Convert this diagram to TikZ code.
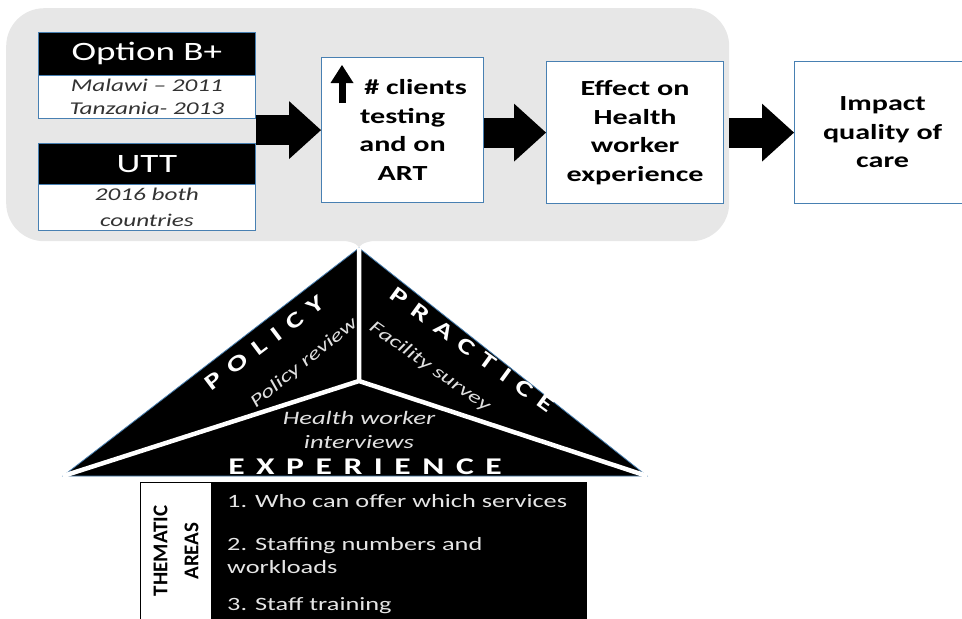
\documentclass[tikz,border=0pt]{standalone}
\usepackage{fontspec}
\setmainfont{Carlito}[FakeStretch=1.4]
\newfontfamily\spacedfont{Carlito}[FakeStretch=1.4,LetterSpace=48]
\newfontfamily\plainfont{Carlito}
\usetikzlibrary{arrows.meta,calc}
\definecolor{edgeblue}{RGB}{72,128,178}
\definecolor{panelgray}{RGB}{231,231,231}

\begin{document}
\begin{tikzpicture}[x=1pt,y=-1pt]

\tikzstyle{panel}=[fill=panelgray,rounded corners=38pt,anchor=north west,inner sep=0pt,minimum width=723,minimum height=233]
\tikzstyle{header}=[fill=black,draw=edgeblue,line width=0.8pt,anchor=north west,inner sep=0pt,minimum width=217,text=white,font=\fontsize{26.5}{30}\selectfont]
\tikzstyle{sub}=[fill=white,draw=edgeblue,line width=0.8pt,anchor=north west,inner sep=0pt,minimum width=217,align=center,text=black!80,font=\fontsize{18}{23}\selectfont\itshape]
\tikzstyle{box}=[fill=white,draw=edgeblue,line width=1.2pt,anchor=north west,inner sep=0pt,align=center,font=\fontsize{21.5}{28.5}\selectfont\bfseries]
\tikzstyle{fat}=[line width=30pt,-{Triangle[length=32pt,width=58pt,line width=0pt]}]
\tikzstyle{caps}=[text=white,inner sep=0pt,font=\spacedfont\fontsize{22}{22}\selectfont\bfseries]
\tikzstyle{method}=[text=white!88!black,inner sep=0pt,font=\fontsize{18}{24}\selectfont\itshape]
\tikzstyle{item}=[anchor=base west,inner sep=0pt,text=white!90!black,font=\fontsize{18.8}{23}\selectfont]

\useasboundingbox (0,0) rectangle (962,619);

% corners of the triangle
\coordinate (top) at (359,248);
\coordinate (mid) at (359,381);
\coordinate (bl) at (63,476);
\coordinate (br) at (647,476);

% grey panel with its pointer
\node[panel] (panel) at (6,8) {};
\fill[panelgray] ($(top)+(-34,-9)$) .. controls ($(top)+(-10,-8)$) and ($(top)+(-3,-5)$) .. ($(top)+(0,-1)$)
  .. controls ($(top)+(3,-5)$) and ($(top)+(10,-8)$) .. ($(top)+(34,-9)$) -- cycle;

% policy boxes
\node[header,minimum height=43] (optb) at (38,32) {Option B+};
\node[sub,minimum height=43] (optbsub) at (38,75) {Malawi -- 2011\\Tanzania- 2013};
\node[header,minimum height=41] (utt) at (38,143) {UTT};
\node[sub,minimum height=46,font=\fontsize{18}{26}\selectfont\itshape] (uttsub) at (38,184) {2016 both\\countries};

% chain of effects
\node[box,minimum width=162,minimum height=145] (clients) at (321,57) {\hspace{26pt}\# clients\\testing\\and on\\ART};
\node[box,minimum width=177,minimum height=142] (effect) at (546,61) {Effect on\\Health\\worker\\experience};
\node[box,minimum width=176,minimum height=142] (impact) at (794,61) {Impact\\quality of\\care};

\draw[line width=7pt,-{Triangle[length=18pt,width=23pt,line width=0pt]}] ($(clients.north west)+(21,46)$) -- ($(clients.north west)+(21,8)$);

\draw[fat] (optbsub.east |- clients.west) -- (clients.west);
\draw[fat] (clients.east |- effect.west) -- (effect.west);
\draw[fat] (panel.east |- impact.west) -- (impact.west);

% triangle of methods
\filldraw[fill=black,draw=edgeblue,line width=0.8pt] (top) -- (br) -- (bl) -- cycle;
\draw[white,line width=4.5pt] (top) -- (mid) (bl) -- (mid) -- (br);

\node[caps,rotate=37] (policy) at (265,343) {POLICY};
\node[method,rotate=39] (polrev) at (304,363) {Policy review};
\node[caps,rotate=-36] (practice) at (472,350) {PRACTICE};
\node[method,rotate=-35] (facsurv) at (430,367) {Facility survey};
\node[method,align=center,font=\fontsize{19}{24}\selectfont\itshape] (hwint) at (359,430) {Health worker\\interviews};
\node[caps,font=\spacedfont\fontsize{24}{24}\selectfont\bfseries] (exper) at (365,467) {EXPERIENCE};

% thematic areas
\node[draw=black,fill=white,line width=1pt,anchor=north west,inner sep=0pt,minimum width=71,minimum height=160] (thcol) at (140,482) {};
\node[fill=black,anchor=north west,inner sep=0pt,minimum width=376,minimum height=160] (thbody) at (211,482) {};
\node[rotate=90,align=center,inner sep=0pt,font=\plainfont\fontsize{21}{31}\selectfont\bfseries] (thlab) at (176,551) {THEMATIC\\AREAS};

\node[item] (it1) at (227,507) {1. Who can offer which services};
\node[item] (it2) at (227,550) {2. Staffing numbers and};
\node[item] (it2b) at (227,573) {workloads};
\node[item] (it3) at (227,610) {3. Staff training};

\end{tikzpicture}
\end{document}
